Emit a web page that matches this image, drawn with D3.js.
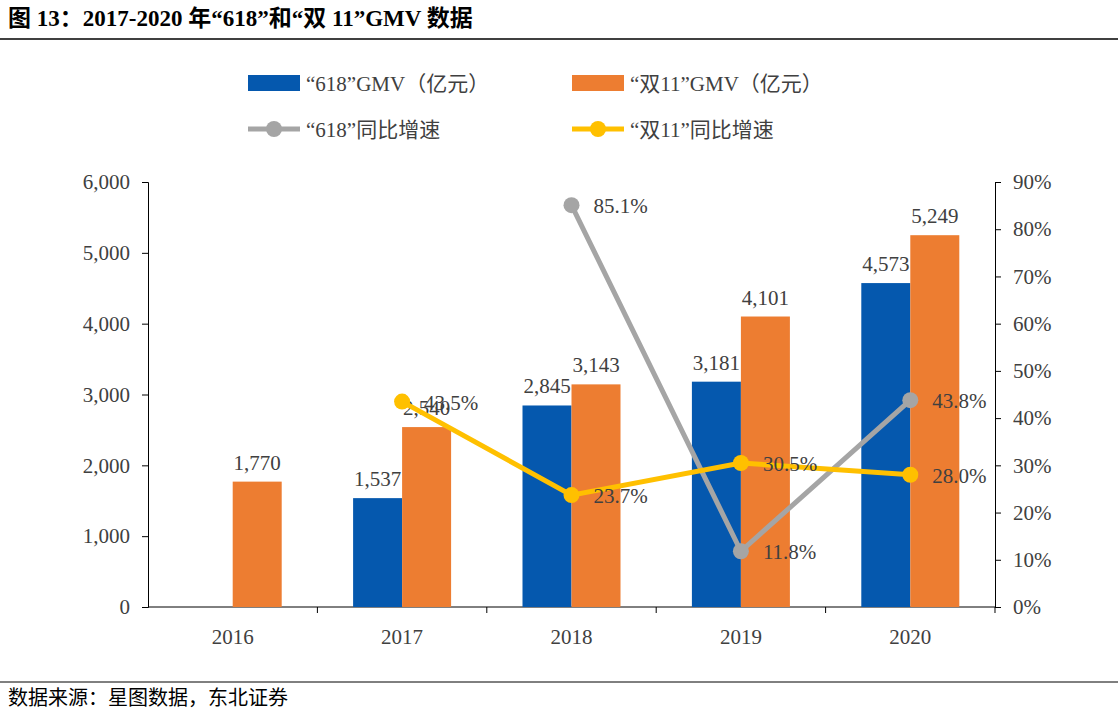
<!DOCTYPE html>
<html lang="en">
<head>
<meta charset="utf-8" />
<script src="https://cdn.jsdelivr.net/npm/d3@7"></script>
<style>
  body { margin: 0; background: #fff; }
  text { font-family: "Liberation Serif", "Noto Sans CJK SC", serif; }
</style>
</head>
<body>
<script>
// data
var years = ["2016", "2017", "2018", "2019", "2020"];
var gmv618 = [null, 1537, 2845, 3181, 4573];
var gmv1111 = [1770, 2540, 3143, 4101, 5249];
var growth618 = [null, null, 85.1, 11.8, 43.8];
var growth1111 = [null, 43.5, 23.7, 30.5, 28.0];
var leftTicks = [0, 1000, 2000, 3000, 4000, 5000, 6000];
var rightTicks = [0, 10, 20, 30, 40, 50, 60, 70, 80, 90];

var w = 1118, h = 711;
var svg = d3.select("body").append("svg").attr("width", w).attr("height", h);

var blue = "#0558AE", orange = "#ED7D31", gray = "#A5A5A5", yellow = "#FFC000";

// title
svg.append("text").attr("x", 8).attr("y", 26)
  .attr("font-size", 23).attr("font-weight", "bold")
  .text("图 13：2017-2020 年“618”和“双 11”GMV 数据");
svg.append("line").attr("x1", 0).attr("x2", w).attr("y1", 39).attr("y2", 39)
  .attr("stroke", "#000").attr("stroke-width", 1.5);

var x = d3.scaleBand().domain(years).range([148, 995]);
var y = d3.scaleLinear().domain([0, 6000]).range([607, 182]);
var y2 = d3.scaleLinear().domain([0, 90]).range([607, 182]);
var bw = 49;

// axes
var gl = svg.append("g").attr("transform", "translate(148,0)")
  .call(d3.axisLeft(y).tickValues(leftTicks).tickFormat(d3.format(",")).tickSize(6).tickPadding(12));
var gr = svg.append("g").attr("transform", "translate(995,0)")
  .call(d3.axisRight(y2).tickValues(rightTicks).tickFormat(function (d) { return d + "%"; }).tickSize(6).tickPadding(12));
var gb = svg.append("g").attr("transform", "translate(0,607)")
  .call(d3.axisBottom(x).tickSize(0).tickPadding(22));
gb.selectAll(".tick").append("line").attr("x1", x.bandwidth() / 2).attr("x2", x.bandwidth() / 2)
  .attr("y1", 0).attr("y2", 6).attr("stroke", "#000");
[gl, gr, gb].forEach(function (g) {
  g.selectAll("text").attr("font-size", 21).attr("fill", "#404040")
    .attr("font-family", "Liberation Serif");
  g.selectAll("path, line").attr("stroke", "#000");
});
gb.select(".domain").attr("d", "M148,0H995");

// bars
function bars(data, color, off) {
  var g = svg.append("g");
  years.forEach(function (yr, i) {
    if (data[i] == null) return;
    var cx = x(yr) + x.bandwidth() / 2 + off;
    g.append("rect").attr("x", cx).attr("width", bw)
      .attr("y", y(data[i])).attr("height", y(0) - y(data[i])).attr("fill", color);
    g.append("text").attr("x", cx + bw / 2).attr("y", y(data[i]) - 12)
      .attr("text-anchor", "middle").attr("font-size", 21).attr("fill", "#404040")
      .text(d3.format(",")(data[i]));
  });
}
bars(gmv618, blue, -bw);
bars(gmv1111, orange, 0);

// lines
function growth(data, color) {
  var pts = years.map(function (yr, i) { return { yr: yr, v: data[i] }; })
    .filter(function (d) { return d.v != null; });
  var cx = function (d) { return x(d.yr) + x.bandwidth() / 2; };
  svg.append("path").datum(pts).attr("fill", "none").attr("stroke", color).attr("stroke-width", 5)
    .attr("d", d3.line().x(cx).y(function (d) { return y2(d.v); }));
  svg.selectAll(null).data(pts).enter().append("circle")
    .attr("cx", cx).attr("cy", function (d) { return y2(d.v); }).attr("r", 8).attr("fill", color);
  svg.selectAll(null).data(pts).enter().append("text")
    .attr("x", function (d) { return cx(d) + 22; }).attr("y", function (d) { return y2(d.v) + 8; })
    .attr("font-size", 21).attr("fill", "#404040")
    .text(function (d) { return d.v.toFixed(1) + "%"; });
}
growth(growth618, gray);
growth(growth1111, yellow);

// legend
var lg = svg.append("g").attr("font-size", 21).attr("fill", "#404040");
var leg = [
  { t: "“618”GMV（亿元）", c: blue, type: "rect", x: 248, y: 83 },
  { t: "“双11”GMV（亿元）", c: orange, type: "rect", x: 572, y: 83 },
  { t: "“618”同比增速", c: gray, type: "line", x: 248, y: 129 },
  { t: "“双11”同比增速", c: yellow, type: "line", x: 572, y: 129 }
];
leg.forEach(function (d) {
  if (d.type === "rect") {
    lg.append("rect").attr("x", d.x).attr("y", d.y - 8).attr("width", 52).attr("height", 16).attr("fill", d.c);
  } else {
    lg.append("line").attr("x1", d.x).attr("x2", d.x + 52).attr("y1", d.y).attr("y2", d.y)
      .attr("stroke", d.c).attr("stroke-width", 5);
    lg.append("circle").attr("cx", d.x + 26).attr("cy", d.y).attr("r", 8).attr("fill", d.c);
  }
  lg.append("text").attr("x", d.x + 58).attr("y", d.y + 8).attr("fill", "#404040").text(d.t);
});

// footer
svg.append("line").attr("x1", 0).attr("x2", w).attr("y1", 682).attr("y2", 682)
  .attr("stroke", "#000").attr("stroke-width", 1);
svg.append("text").attr("x", 8).attr("y", 705).attr("font-size", 20)
  .attr("font-family", "Noto Sans CJK SC").text("数据来源：星图数据，东北证券");
</script>
</body>
</html>
